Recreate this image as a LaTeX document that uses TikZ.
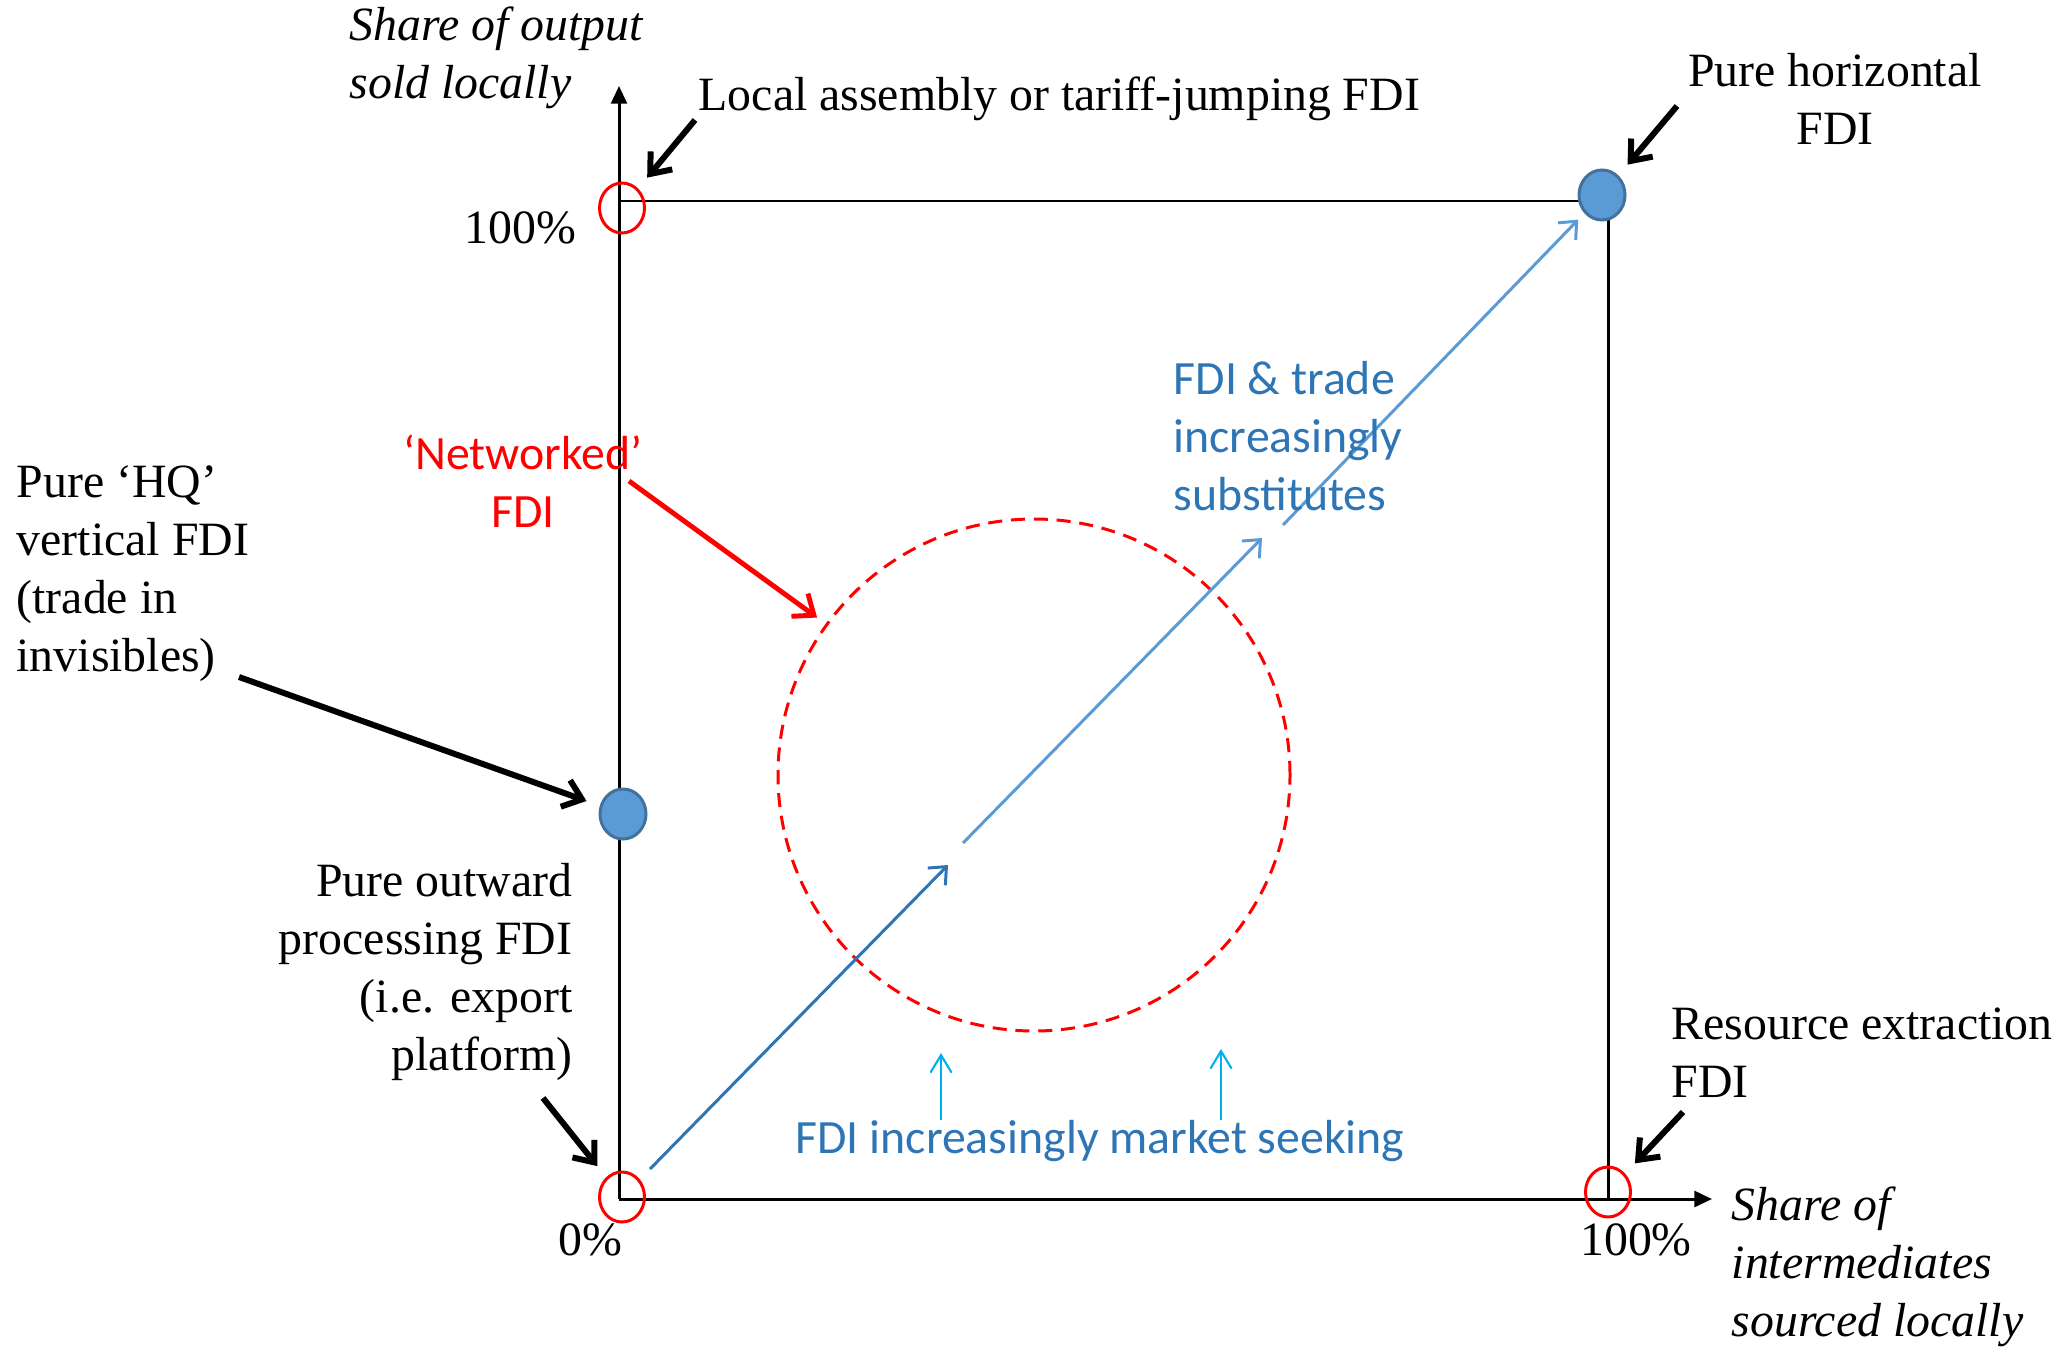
\documentclass[tikz,border=0pt]{standalone}
\usepackage{fontspec}
\setmainfont{Liberation Serif}
\newfontfamily\calibri{Carlito}
\usetikzlibrary{shapes.geometric, arrows.meta}

\definecolor{dotblue}{HTML}{5B9BD5}
\definecolor{dotedge}{HTML}{41719C}
\definecolor{txtblue}{HTML}{2E75B6}
\definecolor{upcyan}{HTML}{00B0F0}

\begin{document}
\begin{tikzpicture}[
  txt/.style={inner sep=0pt,font=\fontsize{13.6}{16.5}\selectfont},
  itx/.style={inner sep=0pt,font=\fontsize{13.6}{16.5}\selectfont\itshape,align=left},
  cal/.style={inner sep=0pt,font=\calibri\fontsize{13.6}{16.5}\selectfont},
  ring/.style={ellipse,draw=red,line width=0.85pt,minimum width=0.45cm,minimum height=0.5cm,inner sep=0pt},
  bdot/.style={ellipse,draw=dotedge,fill=dotblue,line width=0.85pt,minimum width=0.46cm,minimum height=0.5cm,inner sep=0pt},
  ax/.style={line width=0.85pt},
  blk/.style={-{Straight Barb[length=5pt,width=8pt]},line width=1.7pt,shorten >=4pt},
  darr/.style={-{Straight Barb[length=4pt,width=7pt]},line width=0.85pt},
  uparr/.style={-{Straight Barb[length=5pt,width=6pt]},line width=0.6pt,upcyan}]
  \useasboundingbox (0,0) rectangle (20.67,13.47);

  % axes and box
  \coordinate (O) at (6.19,1.48);
  \coordinate (ytip) at (6.19,12.61);
  \coordinate (xtip) at (17.12,1.48);
  \coordinate (tlc) at (6.19,11.46);
  \coordinate (brc) at (16.08,1.48);
  \draw[ax,-{Triangle[length=5pt,width=4.5pt]}](O)--(ytip);
  \draw[ax,-{Triangle[length=5pt,width=4.5pt]}](O)--(xtip);
  \draw[ax](tlc)--(tlc-|brc)--(brc);

  % diagonal path through the middle
  \coordinate (d0) at (6.50,1.78);
  \coordinate (d1) at (9.48,4.82);
  \coordinate (d2) at (9.63,5.04);
  \coordinate (d3) at (12.62,8.09);
  \coordinate (d4) at (12.83,8.22);
  \node[circle,draw=red,line width=0.85pt,dash pattern=on 4pt off 2.5pt,minimum size=5.12cm,inner sep=0pt](net) at (10.34,5.72){};

  % corner markers
  \foreach \n/\x/\y in {oc/6.22/1.50, tc/6.22/11.39, rc/16.08/1.55}{\node[ring](\n) at (\x,\y){};}
  \node[bdot](hz) at (16.02,11.52){};
  \node[bdot](hqd) at (6.23,5.33){};

  \draw[darr,txtblue](d0)--(d1);
  \draw[darr,dotblue](d2)--(d3);
  \draw[darr,dotblue,shorten >=2.5pt](d4)--(hz);

  % labels
  \node[itx,anchor=west](ylab) at (3.49,12.89){Share of output\\sold locally};
  \node[txt,anchor=west](la) at (6.98,12.48){Local assembly or tariff-jumping FDI};
  \node[txt,anchor=east](top) at (5.77,11.19){100\%};
  \node[txt,align=center](ph) at (18.35,12.48){Pure horizontal\\FDI};
  \node[txt,align=left,anchor=west](hq) at (0.16,7.73){Pure ‘HQ’\\vertical FDI\\(trade in\\invisibles)};
  \node[cal,red,align=center](nwl) at (5.23,8.66){‘Networked’\\FDI};
  \node[cal,txtblue,align=left,anchor=west](sub) at (11.73,9.11){FDI \& trade\\increasingly\\substitutes};
  \node[txt,align=right,anchor=east](po) at (5.73,3.75){Pure outward\\processing FDI\\(i.e. export\\platform)};
  \node[txt](zero) at (5.90,1.07){0\%};
  \node[cal,txtblue](mkt) at (11.00,2.06){FDI increasingly market seeking};
  \node[txt,align=left,anchor=west](re) at (16.71,2.945){Resource extraction\\FDI};
  \node[txt](full) at (16.36,1.07){100\%};
  \node[itx,anchor=west](xlab) at (17.31,0.80){Share of\\intermediates\\sourced locally};

  % pointers
  \coordinate (las) at (6.95,12.27);
  \coordinate (phs) at (16.77,12.41);
  \coordinate (hqs) at (2.39,6.70);
  \coordinate (pos) at (5.43,2.49);
  \coordinate (res) at (16.83,2.35);
  \coordinate (nws) at (6.29,8.66);
  \foreach \a/\b in {las/tc,phs/hz,hqs/hqd,pos/oc,res/rc}{\draw[blk](\a)--(\b);}
  \draw[blk,red,line width=1.4pt,shorten >=3pt](nws)--(net);
  \draw[uparr](9.41,0 |- mkt.north)--(9.41,2.94);
  \draw[uparr](12.21,0 |- mkt.north)--(12.21,2.98);
\end{tikzpicture}
\end{document}
